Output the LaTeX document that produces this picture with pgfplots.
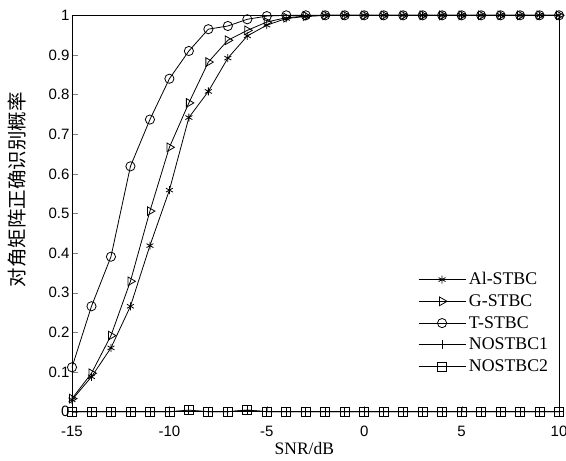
\documentclass[border=0pt]{standalone}
\usepackage{pgfplots}
\pgfplotsset{compat=1.18}
\usepackage{fontspec}
\setmainfont{Liberation Serif}
\setsansfont{Liberation Sans}
\newfontfamily\cjk{Noto Sans CJK SC}
\begin{document}
\begin{tikzpicture}
\begin{axis}[
  name=ax,
  scale only axis,
  width=487pt, height=396.4pt,
  xmin=-15, xmax=10, ymin=0, ymax=1,
  xtick={-15,-10,...,10},
  ytick={0,0.1,...,1.01},
  yticklabels={0,0.1,0.2,0.3,0.4,0.5,0.6,0.7,0.8,0.9,1},
  tick align=inside, xtick pos=bottom, ytick pos=left,
  major tick length=5.5pt,
  axis line style={line width=0.9pt},
  /pgf/number format/assume math mode=true,
  ticklabel style={font=\sffamily\fontsize{15}{15}\selectfont},
  xticklabel style={yshift=-11pt},
  yticklabel style={xshift=1pt},
  xlabel={SNR/dB},
  ylabel={\cjk 对角矩阵正确识别概率},
  xlabel style={font=\fontsize{17.5}{17.5}\selectfont, at={(axis description cs:0.477,-0.093)}, anchor=center},
  ylabel style={font=\fontsize{19.5}{19.5}\selectfont, at={(axis description cs:-0.113,0.56)}, anchor=center},
  clip=false,
  legend style={draw=none, fill=none, inner sep=0pt, at={(axis cs:2.76,0.354)}, anchor=north west,
    font=\fontsize{17.8}{17.8}\selectfont, row sep=5.75pt, column sep=3pt,
    nodes={inner sep=0pt, text height=13pt, text depth=3pt},
    legend cell align=left},
  legend image code/.code={
    \draw[#1,mark=none] plot coordinates {(0pt,0pt) (47pt,0pt)};
    \draw[#1,only marks] plot coordinates {(23.5pt,0pt)};},
  every axis plot/.append style={black, line width=0.8pt},
]
\addplot[mark=asterisk, mark size=4pt, mark options={line width=0.8pt}] coordinates {
(-15,0.03) (-14,0.088) (-13,0.161) (-12,0.266) (-11,0.419) (-10,0.559) (-9,0.742)
(-8,0.808) (-7,0.892) (-6,0.948) (-5,0.975) (-4,0.992) (-3,0.997) (-2,1) (-1,1)
(0,1) (1,1) (2,1) (3,1) (4,1) (5,1) (6,1) (7,1) (8,1) (9,1) (10,1)};
\addlegendentry{Al-STBC}
\addplot[mark=triangle, mark size=5pt, mark options={rotate=-90, fill=white, line width=0.8pt}] coordinates {
(-15,0.033) (-14,0.097) (-13,0.192) (-12,0.329) (-11,0.506) (-10,0.667) (-9,0.779)
(-8,0.882) (-7,0.937) (-6,0.962) (-5,0.983) (-4,0.994) (-3,0.998) (-2,1) (-1,1)
(0,1) (1,1) (2,1) (3,1) (4,1) (5,1) (6,1) (7,1) (8,1) (9,1) (10,1)};
\addlegendentry{G-STBC}
\addplot[mark=o, mark size=4.6pt, mark options={line width=0.8pt}] coordinates {
(-15,0.112) (-14,0.266) (-13,0.391) (-12,0.619) (-11,0.737) (-10,0.840) (-9,0.910)
(-8,0.965) (-7,0.973) (-6,0.990) (-5,0.998) (-4,1) (-3,1) (-2,1) (-1,1)
(0,1) (1,1) (2,1) (3,1) (4,1) (5,1) (6,1) (7,1) (8,1) (9,1) (10,1)};
\addlegendentry{T-STBC}
\addplot[mark=+, mark size=4.5pt, mark options={line width=0.8pt}] coordinates {
(-15,0) (-14,0) (-13,0) (-12,0) (-11,0) (-10,0) (-9,0.002) (-8,0) (-7,0) (-6,0.004)
(-5,0) (-4,0) (-3,0) (-2,0) (-1,0) (0,0) (1,0) (2,0) (3,0) (4,0) (5,0) (6,0) (7,0)
(8,0) (9,0) (10,0)};
\addlegendentry{NOSTBC1}
\addplot[mark=square, mark size=4.5pt, mark options={line width=0.8pt}] coordinates {
(-15,0) (-14,0) (-13,0) (-12,0) (-11,0) (-10,0) (-9,0.004) (-8,0) (-7,0) (-6,0.004)
(-5,0) (-4,0) (-3,0) (-2,0) (-1,0) (0,0) (1,0) (2,0) (3,0) (4,0) (5,0) (6,0) (7,0)
(8,0) (9,0) (10,0)};
\addlegendentry{NOSTBC2}
\end{axis}
\pgfresetboundingbox
\path (ax.south west) ++(-72pt,-48.3pt) coordinate (bbA);
\path (ax.north east) ++(7pt,15.3pt) coordinate (bbB);
\useasboundingbox (bbA) rectangle (bbB);
\end{tikzpicture}
\end{document}
